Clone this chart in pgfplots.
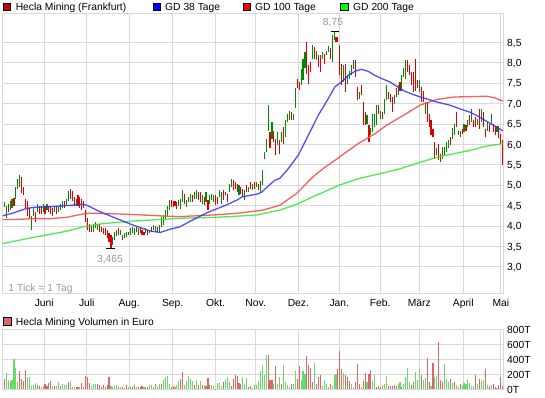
\documentclass[border=0pt]{standalone}
\usepackage{pgfplots}
\pgfplotsset{compat=1.18}
\usepackage{pgfplotstable}
\usepackage{fontspec}
\setmainfont{Liberation Sans}
\newcommand\lab{\fontsize{10.3}{12}\selectfont}
\definecolor{gridc}{HTML}{D9D9D9}
\definecolor{cgreen}{HTML}{008C00}
\definecolor{cred}{HTML}{DD0000}
\definecolor{vgreen}{HTML}{66DD66}
\definecolor{vred}{HTML}{DD6666}
\definecolor{maBlue}{HTML}{3030FF}
\definecolor{maRed}{HTML}{FF4040}
\definecolor{maGreen}{HTML}{33E633}
\definecolor{lbl}{HTML}{999999}
\definecolor{legHecla}{HTML}{CC0000}
\pgfplotstableread{
i l h c v vc
0 4.47 4.59 1 138 0
1 4.20 4.50 1 213 1
2 4.35 4.55 0 124 1
3 4.40 4.60 1 116 1
4 4.45 4.65 1 124 1
5 4.50 4.68 0 400 1
6 4.65 4.95 1 280 1
7 4.90 5.15 1 102 1
8 4.95 5.25 1 249 0
9 4.80 5.20 0 133 0
10 4.75 4.95 0 111 0
11 4.45 4.65 0 258 0
12 4.25 4.60 0 164 1
13 4.20 4.45 0 164 1
14 3.90 4.25 1 40 1
15 4.25 4.45 1 62 1
16 4.10 4.35 0 84 1
17 4.35 4.55 1 53 0
18 4.30 4.50 0 40 0
19 4.30 4.50 0 31 1
20 4.35 4.55 1 44 1
21 4.30 4.50 0 76 0
22 4.40 4.55 1 49 0
23 4.35 4.50 0 84 0
24 4.30 4.50 0 107 0
25 4.25 4.45 0 44 1
26 4.35 4.50 1 44 0
27 4.30 4.50 0 49 1
28 4.35 4.50 1 98 1
29 4.40 4.55 1 49 0
30 4.45 4.60 1 76 1
31 4.45 4.60 0 62 1
32 4.50 4.65 1 62 1
33 4.60 4.85 1 98 0
34 4.65 4.90 0 111 1
35 4.60 4.85 0 36 1
36 4.50 4.70 0 31 1
37 4.50 4.65 1 31 0
38 4.50 4.75 0 31 0
39 4.45 4.70 0 31 1
40 4.40 4.65 0 80 0
41 4.45 4.60 0 31 0
42 4.10 4.40 0 178 0
43 3.90 4.20 0 160 0
44 3.85 4.05 0 89 0
45 3.85 4.00 0 44 1
46 3.85 4.05 1 71 1
47 3.95 4.10 1 67 1
48 3.90 4.05 1 67 0
49 3.85 4.05 0 62 0
50 3.85 3.98 0 36 0
51 3.80 3.95 0 62 0
52 3.78 3.94 0 27 0
53 3.70 3.90 0 62 0
54 3.60 3.82 0 169 0
55 3.465 3.78 0 44 1
56 3.53 3.74 1 31 1
57 3.65 3.85 1 44 1
58 3.75 3.90 1 62 1
59 3.78 3.94 0 31 0
60 3.78 3.90 1 31 1
61 3.65 3.78 0 31 0
62 3.70 3.82 1 18 1
63 3.74 3.86 1 53 0
64 3.78 3.86 0 31 1
65 3.78 3.94 1 44 1
66 3.82 3.98 1 31 0
67 3.78 3.94 1 53 0
68 3.86 3.98 0 27 1
69 3.78 3.94 1 31 0
70 3.82 3.94 0 27 0
71 3.78 3.90 0 44 0
72 3.78 3.86 0 31 1
73 3.82 3.94 1 27 0
74 3.78 3.90 0 36 0
75 3.82 3.90 1 58 1
76 3.86 3.98 0 58 1
77 3.90 4.02 1 36 1
78 3.86 4.00 1 67 0
79 3.86 3.98 0 50 1
80 3.86 4.02 1 67 1
81 3.98 4.23 1 71 0
82 4.02 4.27 1 124 1
83 4.15 4.40 1 160 1
84 4.25 4.50 1 178 1
85 4.40 4.64 1 71 1
86 4.47 4.64 0 31 0
87 4.47 4.60 0 44 0
88 4.50 4.60 0 31 1
89 4.42 4.59 0 62 1
90 4.50 4.63 1 116 1
91 4.42 4.67 1 133 0
92 4.59 4.87 1 231 0
93 4.55 4.79 0 53 1
94 4.46 4.63 1 111 1
95 4.59 4.71 1 178 1
96 4.59 4.79 1 133 1
97 4.59 4.75 0 107 1
98 4.67 4.83 1 53 0
99 4.67 4.87 1 124 1
100 4.63 4.83 0 53 0
101 4.59 4.83 0 107 1
102 4.55 4.75 1 53 0
103 4.51 4.71 0 53 1
104 4.59 4.83 1 44 0
105 4.38 4.63 0 151 0
106 4.55 4.75 1 53 0
107 4.63 4.79 1 53 1
108 4.59 4.75 1 44 1
109 4.51 4.75 0 9 0
110 4.55 4.71 0 80 1
111 4.71 4.87 1 80 1
112 4.55 4.83 1 44 1
113 4.63 4.87 0 98 0
114 4.75 4.83 0 124 1
115 4.59 4.79 0 169 1
116 4.83 5.03 1 102 1
117 4.95 5.16 1 44 0
118 4.87 5.12 0 133 0
119 4.91 5.08 0 187 0
120 4.83 5.03 0 178 0
121 4.75 5.00 1 90 0
122 4.79 4.95 0 71 0
123 4.71 4.91 0 160 1
124 4.63 4.87 1 71 1
125 4.83 5.00 0 156 1
126 4.83 4.95 1 36 0
127 4.91 5.08 0 44 0
128 4.87 5.03 1 18 1
129 4.91 5.08 0 53 1
130 4.95 5.08 1 53 1
131 4.87 5.03 0 116 1
132 4.80 5.10 1 244 1
133 5.00 5.36 1 324 1
134 5.65 5.81 1 196 1
135 5.81 6.14 1 458 1
136 6.34 6.96 1 458 0
137 5.90 6.30 0 124 0
138 6.14 6.55 1 124 0
139 6.06 6.34 0 71 1
140 5.73 6.14 0 311 0
141 5.98 6.30 1 71 1
142 5.77 6.10 0 160 1
143 6.06 6.30 1 71 0
144 6.02 6.43 0 324 1
145 6.18 6.59 1 98 1
146 6.55 6.75 1 60 1
147 6.59 6.81 1 36 1
148 6.59 6.79 0 71 0
149 6.59 6.75 1 71 1
150 6.89 7.37 1 244 1
151 7.37 7.61 0 142 0
152 7.33 7.53 0 311 0
153 7.45 7.85 1 124 1
154 7.57 8.10 1 240 1
155 7.86 8.26 1 200 1
156 7.73 8.51 0 440 0
157 7.49 7.94 0 324 0
158 7.77 8.02 0 280 0
159 8.10 8.43 1 98 0
160 8.10 8.39 0 351 1
161 8.06 8.30 1 71 0
162 7.90 8.18 0 164 0
163 7.77 8.18 0 196 0
164 8.10 8.26 1 44 1
165 7.98 8.22 0 120 1
166 8.18 8.30 1 71 1
167 8.26 8.41 1 36 1
168 8.10 8.35 0 71 0
169 8.02 8.67 1 44 1
170 8.55 8.75 1 196 1
171 8.51 8.63 0 204 1
172 8.51 8.63 0 267 0
173 7.69 8.43 0 516 0
174 7.45 7.98 0 276 0
175 7.53 7.94 1 222 1
176 7.28 7.98 0 187 0
177 7.49 7.69 1 160 0
178 7.61 7.81 1 107 0
179 7.69 7.94 1 71 1
180 7.85 8.06 1 36 1
181 7.65 8.06 0 102 0
182 7.08 7.41 0 342 0
183 7.12 7.28 1 71 0
184 7.20 7.45 0 36 1
185 6.47 7.04 0 107 0
186 6.47 6.79 0 222 0
187 6.51 6.71 1 98 1
188 6.06 6.47 0 209 0
189 6.22 6.40 1 258 0
190 6.30 6.75 1 116 1
191 6.42 6.75 1 191 1
192 6.47 6.96 1 36 0
193 6.75 6.96 0 44 0
194 6.63 6.83 1 36 0
195 6.63 6.79 0 53 1
196 6.75 7.12 1 71 1
197 7.08 7.45 1 173 1
198 7.12 7.28 0 44 0
199 7.04 7.24 0 44 0
200 6.79 7.16 0 44 0
201 7.00 7.20 1 53 0
202 7.16 7.37 0 44 0
203 7.20 7.45 1 71 1
204 7.30 7.53 0 102 1
205 7.32 7.69 1 36 0
206 7.65 7.86 1 76 1
207 7.61 8.06 1 160 1
208 7.77 8.06 0 280 1
209 7.69 7.94 0 102 1
210 7.45 7.77 0 53 0
211 7.28 7.77 0 102 0
212 7.32 8.10 0 231 1
213 7.37 7.57 0 124 1
214 7.28 7.57 1 271 1
215 7.04 7.41 0 196 0
216 7.04 7.32 0 124 1
217 6.75 7.04 1 156 1
218 6.55 7.04 0 418 0
219 6.42 6.75 0 93 0
220 6.22 6.59 0 44 1
221 6.18 6.38 0 351 0
222 5.65 6.06 0 160 1
223 5.74 5.90 1 178 1
224 5.61 6.02 0 631 0
225 5.57 5.77 0 129 0
226 5.65 5.94 1 98 0
227 5.74 5.94 1 338 1
228 5.82 6.06 1 138 1
229 5.90 6.10 1 102 1
230 5.98 6.18 0 138 0
231 6.14 6.39 1 89 1
232 6.22 6.51 1 98 0
233 6.42 6.79 0 53 1
234 6.22 6.34 0 36 1
235 6.18 6.34 1 76 0
236 6.26 6.38 0 53 1
237 6.30 6.51 1 89 1
238 6.34 6.47 0 76 1
239 6.42 6.59 1 142 1
240 6.47 6.71 0 89 1
241 6.55 6.87 1 44 1
242 6.43 6.59 0 44 1
243 6.43 6.67 0 196 0
244 6.47 6.63 1 76 1
245 6.38 6.87 0 133 0
246 6.55 6.87 1 116 1
247 6.42 6.79 0 124 1
248 6.18 6.38 0 276 0
249 6.34 6.55 1 53 1
250 6.30 6.51 0 44 0
251 6.50 6.75 1 53 1
252 6.30 6.50 0 70 0
253 6.22 6.46 0 27 0
254 6.30 6.46 1 20 1
255 6.15 6.45 0 60 0
256 6.02 6.26 0 160 0
257 5.50 6.10 0 50 0
}\data
\begin{document}
\begin{tikzpicture}
\path[use as bounding box] (0pt,0pt) rectangle (545pt,398pt);
\begin{axis}[
  at={(2.7pt,104.7pt)}, anchor=south west,
  scale only axis, width=500.3pt, height=280.3pt,
  xmin=-0.82, xmax=257.1, ymin=2.35, ymax=9.22,
  axis line style={draw=gridc, line width=0.8pt},
  grid=major, major grid style={draw=gridc, line width=0.8pt},
  xtick={20.6,42.5,64.4,86.8,108.9,129.6,151.6,172.7,193.8,213.9,236.6,256.0},
  xticklabels={Juni,Juli,Aug.,Sep.,Okt.,Nov.,Dez.,Jan.,Feb.,März,April,Mai},
  ytick={3,3.5,4,4.5,5,5.5,6,6.5,7,7.5,8,8.5},
  yticklabel pos=right,
  major tick length=0pt,
  tick label style={font=\lab, inner sep=0pt},
  xticklabel style={anchor=base, yshift=-13.7pt},
  yticklabel style={anchor=base west, xshift=4pt, yshift=-3.7pt,
    /pgf/number format/.cd, fixed, fixed zerofill, precision=1, use comma},
  /pgf/number format/assume math mode=true,
]
\addplot[color=cgreen, line width=1.1pt, line cap=butt, mark=none, forget plot,
  quiver={u=0, v=\thisrow{h}-\thisrow{l},
    every arrow/.append style={draw=cgreen, line width=1.1pt, line cap=butt}},
  restrict expr to domain={\thisrow{c}}{0.5:1.5}]
  table[x=i, y=l] {\data};
\addplot[color=cred, line width=1.1pt, line cap=butt, mark=none, forget plot,
  quiver={u=0, v=\thisrow{h}-\thisrow{l},
    every arrow/.append style={draw=cred, line width=1.1pt, line cap=butt}},
  restrict expr to domain={\thisrow{c}}{-0.5:0.5}]
  table[x=i, y=l] {\data};
\addplot[maGreen, line width=1.3pt, opacity=0.85, mark=none] coordinates {
(-0.8,3.57) (15,3.72) (32,3.87) (40.7,3.98) (49.3,4.05) (66.5,4.12) (83.7,4.17) (90.6,4.19) (107.8,4.21) (116.4,4.23) (130.1,4.27) (142.1,4.39) (150.7,4.53) (159.3,4.72) (172.7,5.0) (183.4,5.17) (193.6,5.28) (203.9,5.4) (214.3,5.56) (222.9,5.68) (231.5,5.77) (240,5.85) (247.8,5.95) (257.1,6.02)};
\addplot[maRed, line width=1.3pt, opacity=0.85, mark=none] coordinates {
(-0.8,4.16) (6.4,4.16) (15,4.18) (23.6,4.18) (32,4.21) (38,4.27) (42.5,4.31) (49.3,4.31) (66.5,4.28) (83.7,4.24) (90.6,4.23) (107.8,4.27) (120,4.31) (133.5,4.39) (142.1,4.51) (150.7,4.8) (159.3,5.21) (165,5.43) (171.4,5.64) (173.9,5.73) (182.5,6.02) (191.1,6.26) (197.1,6.47) (205.7,6.71) (214.3,6.96) (222.9,7.1) (231.5,7.16) (240,7.17) (248.7,7.18) (253,7.14) (257.1,7.06)};
\addplot[maBlue, line width=1.3pt, opacity=0.85, mark=none] coordinates {
(-0.8,4.25) (4.7,4.32) (11.5,4.43) (15,4.455) (23.6,4.47) (32,4.5) (40.7,4.53) (42.5,4.51) (49.3,4.35) (58,4.18) (66.5,4.02) (75,3.88) (80.3,3.84) (85.4,3.92) (90.6,3.98) (96,4.12) (102.6,4.28) (105.2,4.34) (113.8,4.5) (120.6,4.65) (122.4,4.71) (131,4.79) (132.7,4.83) (136.1,4.98) (139.5,5.12) (142.1,5.17) (146,5.38) (151.5,5.73) (156.7,6.22) (161.8,6.71) (167,7.12) (170.4,7.41) (173.9,7.53) (177.3,7.69) (180.7,7.79) (184.2,7.84) (187.6,7.79) (191.1,7.69) (193.7,7.63) (198.8,7.53) (205.7,7.32) (210.8,7.22) (216,7.14) (222.9,7.04) (229.7,6.96) (234.9,6.87) (240,6.79) (243.5,6.71) (247.8,6.59) (252.1,6.47) (257.1,6.33)};
\draw[black, line width=1pt] (axis cs:168.3,8.77) -- (axis cs:172.7,8.77);
\draw[black, line width=1pt] (axis cs:52.4,3.455) -- (axis cs:57.1,3.455);
\end{axis}
\begin{axis}[
  at={(2.7pt,8.7pt)}, anchor=south west,
  scale only axis, width=500.3pt, height=60pt,
  xmin=-0.82, xmax=257.1, ymin=0, ymax=800,
  axis line style={draw=gridc, line width=0.8pt},
  grid=major, major grid style={draw=gridc, line width=0.8pt},
  xtick={20.6,42.5,64.4,86.8,108.9,129.6,151.6,172.7,193.8,213.9,236.6,256.0},
  xticklabels={},
  ytick={0,200,400,600,800},
  yticklabels={0T,200T,400T,600T,800T},
  yticklabel pos=right,
  major tick length=0pt,
  tick label style={font=\lab, inner sep=0pt},
  yticklabel style={anchor=base west, xshift=4pt, yshift=-3.7pt},
]
\addplot[color=vgreen, line width=1.1pt, line cap=butt, mark=none,
  quiver={u=0, v=\thisrow{v},
    every arrow/.append style={draw=vgreen, line width=1.1pt, line cap=butt}},
  restrict expr to domain={\thisrow{vc}}{0.5:1.5}]
  table[x=i, y expr=0] {\data};
\addplot[color=vred, line width=1.1pt, line cap=butt, mark=none,
  quiver={u=0, v=\thisrow{v},
    every arrow/.append style={draw=vred, line width=1.1pt, line cap=butt}},
  restrict expr to domain={\thisrow{vc}}{-0.5:0.5}]
  table[x=i, y expr=0] {\data};
\end{axis}
% legends and notes
\draw[line width=0.6pt, fill=legHecla] (3pt,387.3pt) rectangle (10.5pt,394.8pt);
\node[anchor=base west, inner sep=0pt, font=\lab] at (15.6pt,387.5pt) {Hecla Mining (Frankfurt)};
\draw[line width=0.6pt, fill=blue] (153pt,387.3pt) rectangle (160.5pt,394.8pt);
\node[anchor=base west, inner sep=0pt, font=\lab] at (165pt,387.5pt) {GD 38 Tage};
\draw[line width=0.6pt, fill=red] (243pt,387.3pt) rectangle (250.5pt,394.8pt);
\node[anchor=base west, inner sep=0pt, font=\lab] at (255pt,387.5pt) {GD 100 Tage};
\draw[line width=0.6pt, fill=green] (340.5pt,387.3pt) rectangle (348pt,394.8pt);
\node[anchor=base west, inner sep=0pt, font=\lab] at (353pt,387.5pt) {GD 200 Tage};
\draw[line width=0.6pt, fill=vred] (3.3pt,72.7pt) rectangle (11.3pt,80.7pt);
\node[anchor=base west, inner sep=0pt, font=\lab] at (15.7pt,72.7pt) {Hecla Mining Volumen in Euro};
\node[anchor=base, inner sep=0pt, text=lbl, font=\lab] at (333pt,372pt) {8,75};
\node[anchor=base, inner sep=0pt, text=lbl, font=\lab] at (110pt,135pt) {3,465};
\node[anchor=base west, inner sep=0pt, text=lbl, font=\lab] at (8.3pt,106.8pt) {1 Tick = 1 Tag};
\end{tikzpicture}
\end{document}
